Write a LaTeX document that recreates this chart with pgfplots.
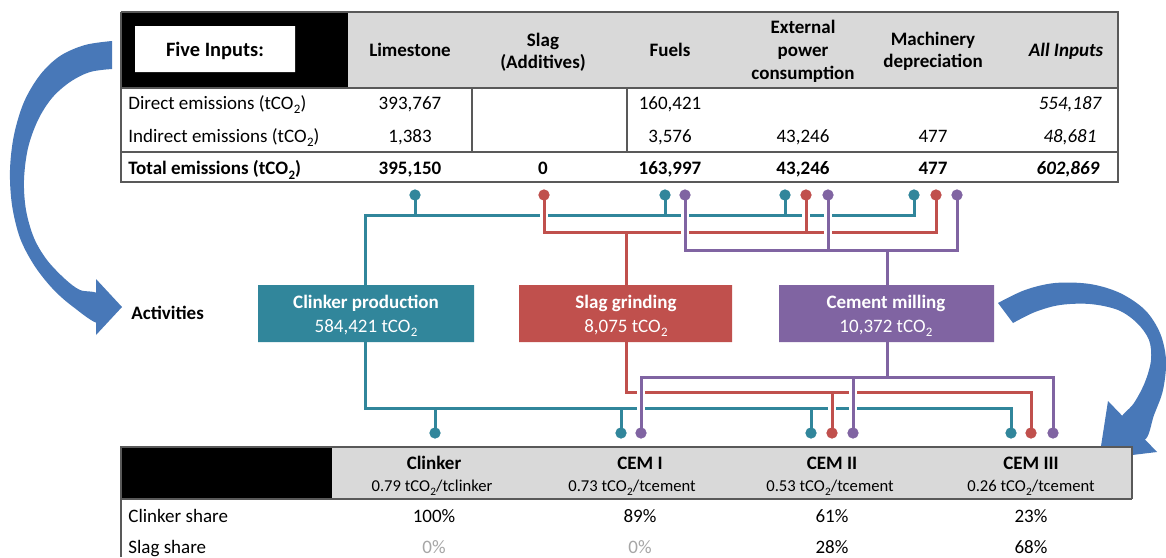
\documentclass[border=0pt]{standalone}
\usepackage{pgfplots}
\pgfplotsset{compat=1.18}
\usepackage{fontspec}
\setmainfont{Carlito}

\definecolor{cteal}{HTML}{31869B}
\definecolor{cred}{HTML}{C0504D}
\definecolor{cpurp}{HTML}{8064A2}
\definecolor{hdr}{HTML}{D9D9D9}
\definecolor{arr}{HTML}{4878B8}
\definecolor{rul}{HTML}{595959}
\definecolor{faint}{HTML}{A6A6A6}

% Calibri-style subscript: sits lower than \textsubscript
\newcommand\co{tCO\kern0.2pt\raisebox{-0.55ex}{\scalebox{0.68}{2}}}
% box: options, x1, y1, x2, y2 (pixels, y down)
\newcommand\rect[5]{\addplot[#1] coordinates {(#2,#3)(#4,#3)(#4,#5)(#2,#5)(#2,#3)};}
% white halo under a connector, then the connector itself
\newcommand\halo[1]{\addplot[white, line width=3.6pt] coordinates {#1};}
\newcommand\wire[2]{\addplot[#1, line width=1.5pt] coordinates {#2};}

\tikzset{
  txt/.style={anchor=base, inner sep=0pt, font=\fontsize{9.5}{11}\selectfont},
  bf/.style={txt, font=\fontsize{9.5}{11}\selectfont\bfseries},
  lbl/.style={txt, anchor=base west},
  bx/.style={txt, text=white},
}

\begin{document}
\begin{tikzpicture}
\begin{axis}[
  width=583pt, height=278.5pt, scale only axis,
  xmin=0, xmax=1166, ymin=0, ymax=557, y dir=reverse,
  axis lines=none,
]
\rect{fill=white, draw=none}{0}{0}{1166}{557}

% ---- curved arrows
\addplot[fill=arr, draw=none, smooth, tension=0.55] coordinates {
  (112,41)(85,45)(60,56)(40,75)(24,102)(14,135)(10,170)(12,205)(20,238)(34,265)(52,288)(72,306)(99,323)
  (99,295)(80,290)(65,279)(47,260)(34,238)(26,210)(24,180)(28,148)(38,120)(52,98)(70,82)(90,72)(112,69)};
\addplot[fill=arr, draw=none] coordinates {(96,279)(122,307)(96,335)(96,279)};

\addplot[fill=arr, draw=none, smooth, tension=0.55] coordinates {
  (998,303)(1025,290)(1055,283)(1090,284)(1120,293)(1145,310)(1160,333)(1166,360)(1163,390)(1154,415)(1144,440)
  (1118,424)(1134,403)(1145,382)(1151,360)(1149,340)(1137,323)(1118,310)(1090,304)(1060,305)(1035,312)(1013,323)};
\addplot[fill=arr, draw=none] coordinates {(1108,401)(1099,459)(1157,452)(1108,401)};

% ---- top table
\rect{fill=black, draw=none}{121}{12}{348}{88}
\rect{fill=hdr, draw=none}{348}{12}{1118}{88}
\rect{fill=white, draw=none}{135}{26}{295}{72}
\rect{draw=rul, line width=0.8pt}{121}{12}{1118}{182}
\addplot[rul, line width=0.8pt] coordinates {(121,88)(1118,88)};
\addplot[rul, line width=0.8pt] coordinates {(121,152)(1118,152)};
\addplot[rul, line width=0.8pt] coordinates {(472,88)(472,152)};
\addplot[rul, line width=0.8pt] coordinates {(627,88)(627,152)};

\node[txt, font=\fontsize{10.2}{12}\selectfont\bfseries] at (215,56) {Five Inputs:};
\node[bf] at (410,56) {Limestone};
\node[bf] at (543,46) {Slag};
\node[bf] at (543,68) {(Additives)};
\node[bf] at (670,56) {Fuels};
\node[bf] at (803,33) {External};
\node[bf] at (803,56) {power};
\node[bf] at (803,79) {consumption};
\node[bf] at (933,45) {Machinery};
\node[bf] at (933,67) {depreciation};
\node[txt, font=\fontsize{9.5}{11}\selectfont\bfseries\itshape] at (1066,56) {All Inputs};

\node[lbl] at (128,109) {Direct emissions (\co)};
\node[lbl] at (128,142) {Indirect emissions (\co)};
\node[lbl, font=\fontsize{9.5}{11}\selectfont\bfseries] at (128,174) {Total emissions (\co)};

\node[txt] at (410,109) {393,767};
\node[txt] at (670,109) {160,421};
\node[txt, font=\fontsize{9.5}{11}\selectfont\itshape] at (1070,109) {554,187};
\node[txt] at (410,142) {1,383};
\node[txt] at (670,142) {3,576};
\node[txt] at (803,142) {43,246};
\node[txt] at (933,142) {477};
\node[txt, font=\fontsize{9.5}{11}\selectfont\itshape] at (1070,142) {48,681};
\node[bf] at (410,174) {395,150};
\node[bf] at (543,174) {0};
\node[bf] at (670,174) {163,997};
\node[bf] at (803,174) {43,246};
\node[bf] at (933,174) {477};
\node[txt, font=\fontsize{9.5}{11}\selectfont\bfseries\itshape] at (1068,174) {602,869};

% ---- activities
\node[lbl, font=\fontsize{9.5}{11}\selectfont\bfseries] at (131,319) {Activities};

% teal: clinker production
\halo{(415,195)(415,215)}
\halo{(665,195)(665,215)}
\halo{(785,195)(785,215)}
\halo{(914,195)(914,215)(365,215)(365,285)}
\halo{(365,342)(365,408)(1011,408)(1011,433)}
\halo{(435,408)(435,433)}
\halo{(621,408)(621,433)}
\halo{(811,408)(811,433)}
\wire{cteal}{(415,195)(415,215)}
\wire{cteal}{(665,195)(665,215)}
\wire{cteal}{(785,195)(785,215)}
\wire{cteal}{(914,195)(914,215)(365,215)(365,285)}
\wire{cteal}{(365,342)(365,408)(1011,408)(1011,433)}
\wire{cteal}{(435,408)(435,433)}
\wire{cteal}{(621,408)(621,433)}
\wire{cteal}{(811,408)(811,433)}

% red: slag grinding
\halo{(544,195)(544,232)(936,232)(936,195)}
\halo{(806,195)(806,232)}
\halo{(626,232)(626,285)}
\halo{(626,342)(626,392)(1031,392)(1031,433)}
\halo{(832,392)(832,433)}
\wire{cred}{(544,195)(544,232)(936,232)(936,195)}
\wire{cred}{(806,195)(806,232)}
\wire{cred}{(626,232)(626,285)}
\wire{cred}{(626,342)(626,392)(1031,392)(1031,433)}
\wire{cred}{(832,392)(832,433)}

% purple: cement milling
\halo{(685,195)(685,250)(957,250)(957,195)}
\halo{(828,195)(828,250)}
\halo{(887,250)(887,285)}
\halo{(887,342)(887,377)}
\halo{(641,433)(641,377)(1053,377)(1053,433)}
\halo{(853,377)(853,433)}
\wire{cpurp}{(685,195)(685,250)(957,250)(957,195)}
\wire{cpurp}{(828,195)(828,250)}
\wire{cpurp}{(887,250)(887,285)}
\wire{cpurp}{(887,342)(887,377)}
\wire{cpurp}{(641,433)(641,377)(1053,377)(1053,433)}
\wire{cpurp}{(853,377)(853,433)}

\addplot[only marks, mark=*, mark size=2.6pt, cteal] coordinates {
  (415,195)(665,195)(785,195)(914,195)(435,433)(621,433)(811,433)(1011,433)};
\addplot[only marks, mark=*, mark size=2.6pt, cred] coordinates {
  (544,195)(806,195)(936,195)(832,433)(1031,433)};
\addplot[only marks, mark=*, mark size=2.6pt, cpurp] coordinates {
  (685,195)(828,195)(957,195)(641,433)(853,433)(1053,433)};

\rect{fill=cteal, draw=none}{258}{285}{474}{342}
\rect{fill=cred, draw=none}{519}{285}{732}{342}
\rect{fill=cpurp, draw=none}{779}{285}{994}{342}

\node[bx, font=\fontsize{9.5}{11}\selectfont\bfseries] at (366,308) {Clinker production};
\node[bx] at (366,332) {584,421 \co};
\node[bx, font=\fontsize{9.5}{11}\selectfont\bfseries] at (626,308) {Slag grinding};
\node[bx] at (626,332) {8,075 \co};
\node[bx, font=\fontsize{9.5}{11}\selectfont\bfseries] at (886,308) {Cement milling};
\node[bx] at (886,332) {10,372 \co};

% ---- bottom table
\rect{fill=black, draw=none}{121}{447}{332}{499}
\rect{fill=hdr, draw=none}{332}{447}{1132}{499}
\addplot[rul, line width=0.8pt] coordinates {(121,557)(121,447)(1132,447)(1132,499)};
\addplot[rul, line width=0.8pt] coordinates {(121,499)(1132,499)};

\node[bf] at (434,469) {Clinker};
\node[bf] at (640,469) {CEM I};
\node[bf] at (832,469) {CEM II};
\node[bf] at (1031,469) {CEM III};
\node[txt, font=\fontsize{8.3}{9}\selectfont] at (432,491) {0.79 \co/tclinker};
\node[txt, font=\fontsize{8.3}{9}\selectfont] at (632,491) {0.73 \co/tcement};
\node[txt, font=\fontsize{8.3}{9}\selectfont] at (830,491) {0.53 \co/tcement};
\node[txt, font=\fontsize{8.3}{9}\selectfont] at (1031,491) {0.26 \co/tcement};

\node[lbl] at (128,522) {Clinker share};
\node[lbl] at (128,553) {Slag share};
\node[txt] at (434,522) {100\%};
\node[txt] at (640,522) {89\%};
\node[txt] at (832,522) {61\%};
\node[txt] at (1031,522) {23\%};
\node[txt, text=faint] at (434,553) {0\%};
\node[txt, text=faint] at (640,553) {0\%};
\node[txt] at (832,553) {28\%};
\node[txt] at (1031,553) {68\%};
\end{axis}
\end{tikzpicture}
\end{document}
